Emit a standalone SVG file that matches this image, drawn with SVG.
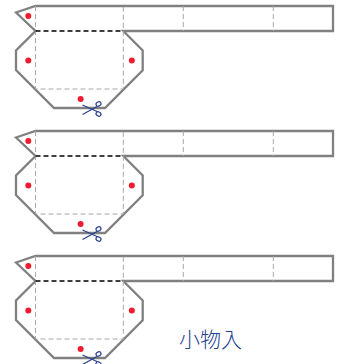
<svg xmlns="http://www.w3.org/2000/svg" width="345" height="364" viewBox="0 0 345 364">
<style>
.cut{fill:none;stroke:#808080;stroke-width:2.3}
.fold{fill:none;stroke:#a8a8a8;stroke-width:1;stroke-dasharray:5 3}
.mid{fill:none;stroke:#000;stroke-width:1.4;stroke-dasharray:5 3}
.dot{fill:#ee1c2e}
.sc{fill:none;stroke:#27418f;stroke-width:1.2}
.lbl{font-family:"Noto Sans CJK JP","Noto Sans CJK SC",sans-serif;font-size:21px;font-weight:300;fill:#25408f}
</style>
<defs>
<g id="pouch">
<path class="cut" d="M16 12.5L35.5 6H333V31H123.3L142.7 50.5V70.3L105 108H54L16 70V50.5L35.5 31Z"/>
<path class="fold" d="M35.5 6V89H123.3V6M183.3 6V31M273.3 6V31"/>
<path class="mid" d="M35.5 31H123.3"/>
<circle class="dot" cx="28.3" cy="16" r="3"/>
<circle class="dot" cx="28.3" cy="60.5" r="3"/>
<circle class="dot" cx="131.8" cy="60.5" r="3"/>
<circle class="dot" cx="80.6" cy="99" r="3"/>
<g class="sc">
<path d="M82.5 105L97 111.5M82.5 114.5L97 106.5"/>
<ellipse cx="98.5" cy="104" rx="2.6" ry="2" transform="rotate(-30 98.5 104)"/>
<ellipse cx="98.5" cy="114" rx="2.6" ry="2" transform="rotate(30 98.5 114)"/>
</g>
</g>
</defs>
<g id="pouch-1"><use href="#pouch"/></g>
<g id="pouch-2"><use href="#pouch" y="125"/></g>
<g id="pouch-3"><use href="#pouch" y="250"/></g>
<text class="lbl" x="179" y="347">小物入</text>
</svg>
